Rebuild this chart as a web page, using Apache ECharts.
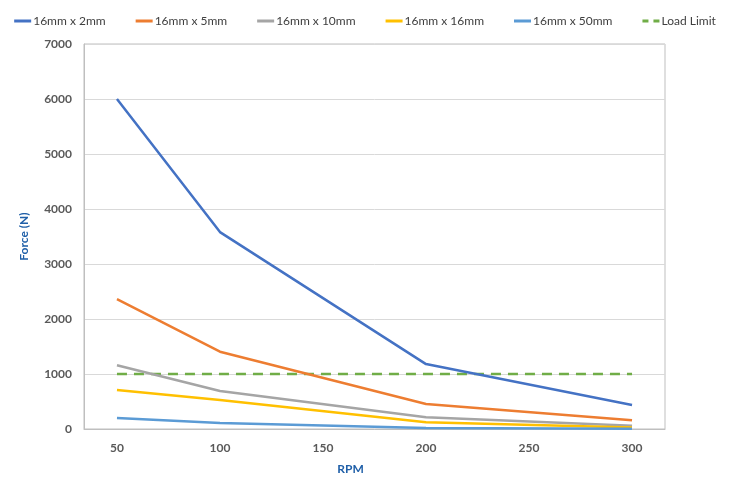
<!DOCTYPE html>
<html>
<head>
<meta charset="utf-8">
<script src="https://cdn.jsdelivr.net/npm/echarts@6/dist/echarts.min.js"></script>
<style>
  html, body { margin: 0; padding: 0; background: #fff; }
  #chart { width: 730px; height: 477px; }
</style>
</head>
<body>
<div id="chart"></div>
<script>
// RPM points and force values
const rpm = [50, 100, 200, 300]
const seriesNames = ['16mm x 2mm', '16mm x 5mm', '16mm x 10mm', '16mm x 16mm', '16mm x 50mm', 'Load Limit']
const force2mm = [6000, 3580, 1180, 435]
const force5mm = [2360, 1405, 455, 158]
const force10mm = [1160, 690, 212, 60]
const force16mm = [710, 527, 121, 28]
const force50mm = [200, 109, 18, 6]
const loadLimit = [1000, 1000, 1000, 1000]
const xTicks = [50, 100, 150, 200, 250, 300]

const colors = ['#4472C4', '#ED7D31', '#A5A5A5', '#FFC000', '#5B9BD5', '#70AD47']
const allValues = [force2mm, force5mm, force10mm, force16mm, force50mm, loadLimit]

const chart = echarts.init(document.getElementById('chart'))

const series = allValues.map((vals, i) => ({
  name: seriesNames[i],
  type: 'line',
  data: vals.map((v, j) => [rpm[j], v]),
  showSymbol: false,
  symbol: 'none',
  lineStyle: {
    color: colors[i],
    width: 2.5,
    type: i === 5 ? [10, 7] : 'solid'
  },
  itemStyle: { color: colors[i] },
  z: i === 5 ? 1 : 2
}))

const option = {
  animation: false,
  textStyle: { fontFamily: 'Lato, "Noto Sans", sans-serif' },
  legend: {
    top: 10,
    left: 'center',
    itemWidth: 17,
    itemHeight: 3,
    itemGap: 30,
    icon: 'rect',
    textStyle: { fontSize: 12, color: '#404040', padding: [0, 0, 0, -3] },
    data: seriesNames.map((n, i) => i === 5
      ? { name: n, icon: 'path://M0,0 H6 V3 H0 Z M11,0 H17 V3 H11 Z' }
      : { name: n })
  },
  grid: {
    left: 84,
    right: 65,
    top: 44,
    bottom: 48,
    outerBoundsMode: 'none',
    show: true,
    borderColor: '#BFBFBF',
    borderWidth: 1
  },
  xAxis: {
    type: 'value',
    min: 34,
    max: 316,
    name: 'RPM',
    nameLocation: 'middle',
    nameGap: 34,
    nameTextStyle: { color: '#1F5FA8', fontWeight: 'bold', fontSize: 12, padding: [0, 48, 0, 0] },
    axisLine: { show: true, lineStyle: { color: '#BFBFBF' } },
    axisTick: { show: false },
    splitLine: { show: false },
    axisLabel: {
      customValues: xTicks,
      color: '#595959',
      fontSize: 12,
      fontWeight: 'bold',
      margin: 13
    }
  },
  yAxis: {
    type: 'value',
    min: 0,
    max: 7000,
    interval: 1000,
    name: 'Force (N)',
    nameLocation: 'middle',
    nameGap: 54,
    nameTextStyle: { color: '#1F5FA8', fontWeight: 'bold', fontSize: 12 },
    axisLine: { show: true, lineStyle: { color: '#BFBFBF' } },
    axisTick: { show: false },
    splitLine: { lineStyle: { color: '#D9D9D9' } },
    axisLabel: {
      color: '#595959',
      fontSize: 12,
      fontWeight: 'bold',
      margin: 12,
      formatter: (v) => String(v)
    }
  },
  series: series
}

chart.setOption(option)
</script>
</body>
</html>
